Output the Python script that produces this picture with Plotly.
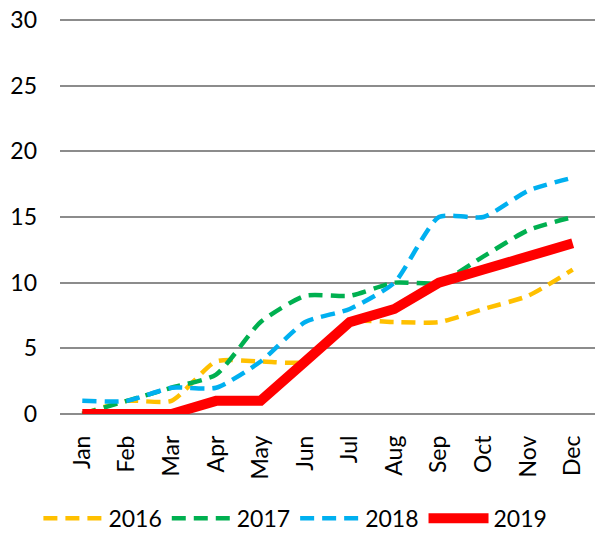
import plotly.graph_objects as go

months = ["Jan", "Feb", "Mar", "Apr", "May", "Jun", "Jul", "Aug", "Sep", "Oct", "Nov", "Dec"]
y2016 = [0, 1, 1, 4, 4, 4, 7, 7, 7, 8, 9, 11]
y2017 = [0, 1, 2, 3, 7, 9, 9, 10, 10, 12, 14, 15]
y2018 = [1, 1, 2, 2, 4, 7, 8, 10, 15, 15, 17, 18]
y2019 = [0, 0, 0, 1, 1, 4, 7, 8, 10, 11, 12, 13]

dash = "14px,8px"
fig = go.Figure()
fig.add_trace(go.Scatter(x=months, y=y2016, name="2016", mode="lines",
                         line=dict(color="#FFC000", width=4.5, dash=dash, shape="spline", smoothing=0.6)))
fig.add_trace(go.Scatter(x=months, y=y2017, name="2017", mode="lines",
                         line=dict(color="#00B050", width=4.5, dash=dash, shape="spline", smoothing=0.6)))
fig.add_trace(go.Scatter(x=months, y=y2018, name="2018", mode="lines",
                         line=dict(color="#00B0F0", width=4.5, dash=dash, shape="spline", smoothing=0.6)))
fig.add_trace(go.Scatter(x=months, y=y2019, name="2019", mode="lines",
                         line=dict(color="#FF0000", width=10)))

fig.update_layout(
    width=595, height=540,
    margin=dict(l=60, r=0, t=19, b=123, pad=0),
    plot_bgcolor="white", paper_bgcolor="white",
    font=dict(family="Lato, Liberation Sans, sans-serif", size=23, color="#000000"),
    showlegend=True,
    legend=dict(orientation="h", x=0.44, xanchor="center", y=-0.264, yanchor="middle",
                font=dict(size=23), tracegroupgap=0, itemwidth=60),
    xaxis=dict(tickangle=-90, showgrid=False, showline=False, ticks="",
               range=[-0.5, 11.5], automargin=False, ticklabelstandoff=16),
    yaxis=dict(range=[0, 30.08], tickvals=[0, 5, 10, 15, 20, 25, 30], showgrid=True,
               gridcolor="#8C8C8C", gridwidth=2,
               zeroline=True, zerolinecolor="#8C8C8C", zerolinewidth=2,
               showline=False, ticks="", ticklabelstandoff=22, automargin=False),
)

fig.write_html("out.html", config={"displayModeBar": False},
               post_script="document.body.style.margin='0';")
